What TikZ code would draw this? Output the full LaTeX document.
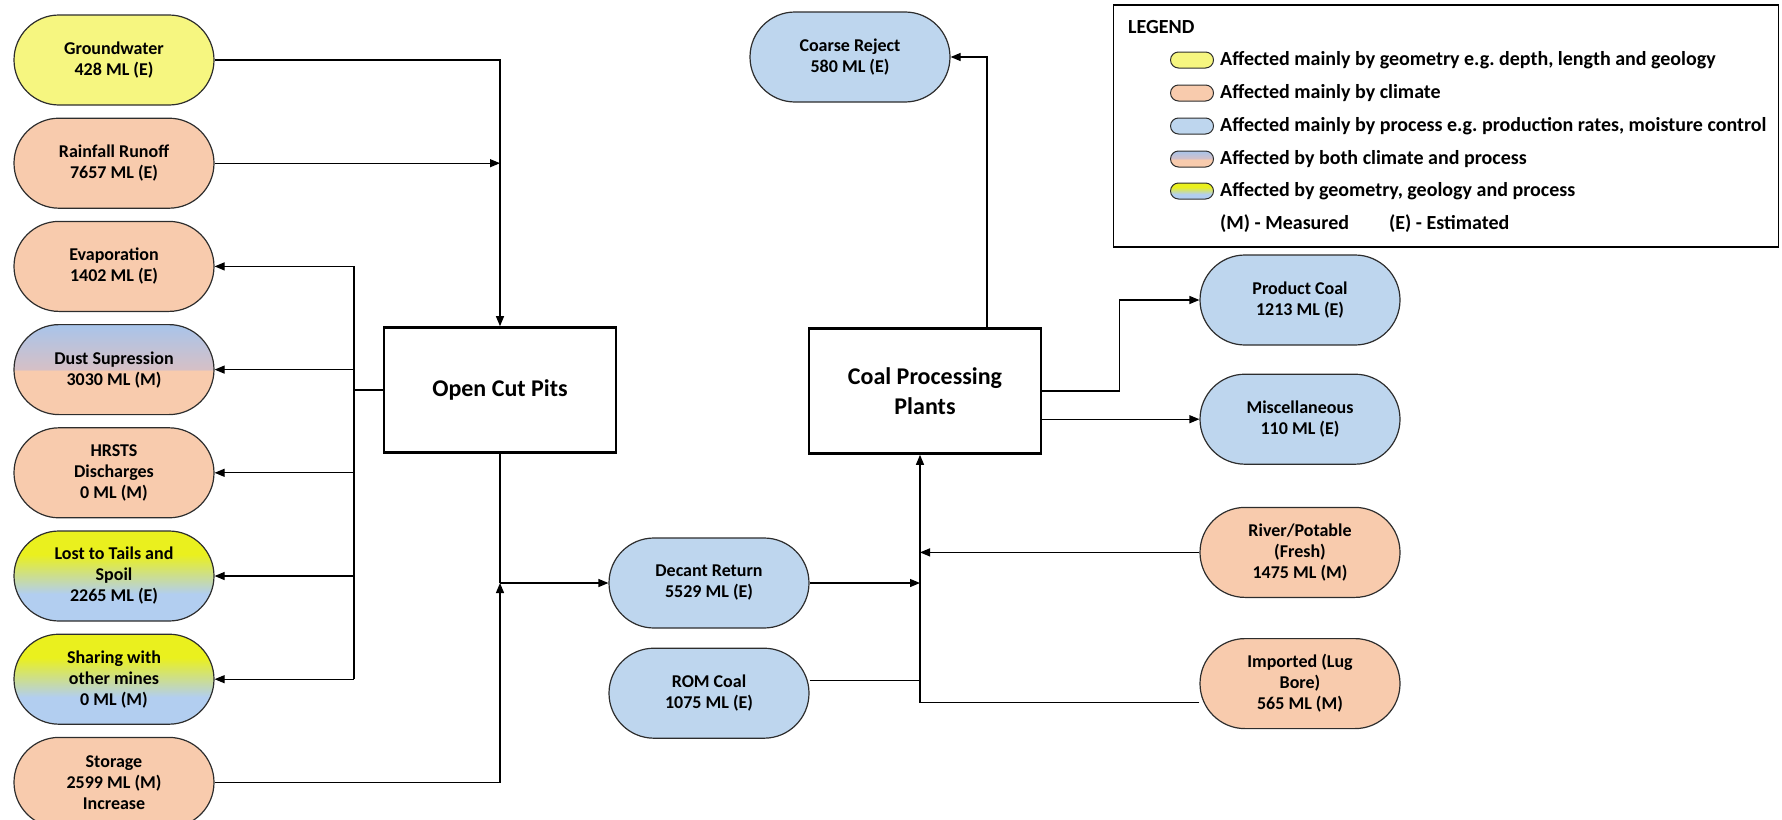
\documentclass[tikz,border=0pt]{standalone}
\usepackage{fontspec}
\setmainfont{Carlito}
\usepackage{tikz}
\usetikzlibrary{arrows.meta,positioning,shapes.misc}
\definecolor{geoyellow}{RGB}{246,246,128}
\definecolor{climpeach}{RGB}{248,203,173}
\definecolor{procblue}{RGB}{190,214,238}
\definecolor{dusttop}{RGB}{168,196,234}
\definecolor{dustmid}{RGB}{214,192,198}
\definecolor{minetop}{RGB}{234,240,30}
\definecolor{minebot}{RGB}{178,206,240}
\definecolor{edgegrey}{RGB}{45,45,45}
\pgfdeclareverticalshading{bothshade}{100bp}{color(0bp)=(climpeach); color(25bp)=(climpeach);
  color(49.5bp)=(climpeach); color(50bp)=(dustmid); color(75bp)=(dusttop); color(100bp)=(dusttop)}
\pgfdeclareverticalshading{mixshade}{100bp}{color(0bp)=(minebot); color(25bp)=(minebot);
  color(40bp)=(minebot); color(62bp)=(minetop); color(75bp)=(minetop); color(100bp)=(minetop)}
\tikzset{
  flowbox/.style={shape=rounded rectangle, draw=edgegrey, line width=1.2pt,
    minimum width=204pt, minimum height=90pt, inner sep=2pt,
    align=center, font=\fontsize{18}{21}\selectfont\bfseries},
  geobox/.style={flowbox, fill=geoyellow},
  climbox/.style={flowbox, fill=climpeach},
  procbox/.style={flowbox, fill=procblue},
  bothbox/.style={flowbox, shade, shading=bothshade},
  mixbox/.style={flowbox, shade, shading=mixshade},
  plantbox/.style={draw, line width=2.6pt, minimum width=232pt, minimum height=125pt,
    align=center, font=\fontsize{24}{30}\selectfont\bfseries},
  swatch/.style={shape=rounded rectangle, draw=edgegrey, line width=1pt,
    minimum width=43pt, minimum height=16pt, inner sep=0pt},
  legtext/.style={anchor=west, inner sep=0pt, font=\fontsize{20}{23}\selectfont\bfseries},
  arr/.style={-{Triangle[length=10pt,width=8pt]}, line width=1.2pt},
  link/.style={line width=1.2pt},
}

\begin{document}
\frenchspacing
\begin{tikzpicture}[x=1pt, y=-1pt]
  \useasboundingbox (0,0) rectangle (1782,819);

  % Left column: pit inflows and losses
  \node[geobox] (gw) at (114,60) {Groundwater\\428 ML (E)};
  \node[climbox, below=12pt of gw] (rain) {Rainfall Runoff\\7657 ML (E)};
  \node[climbox, below=12pt of rain] (evap) {Evaporation\\1402 ML (E)};
  \node[bothbox, below=12pt of evap] (dust) {Dust Supression\\3030 ML (M)};
  \node[climbox, below=12pt of dust] (hrsts) {HRSTS\\Discharges\\0 ML (M)};
  \node[mixbox, below=12pt of hrsts] (tails) {Lost to Tails and\\Spoil\\2265 ML (E)};
  \node[mixbox, below=12pt of tails] (share) {Sharing with\\other mines\\0 ML (M)};
  \node[climbox, below=12pt of share] (store) {Storage\\2599 ML (M)\\Increase};

  % Main units
  \node[plantbox] (pits) at (500,390) {Open Cut Pits};
  \node[plantbox] (cpp) at (925,391) {Coal Processing\\Plants};

  % Middle and right columns
  \node[procbox] (coarse) at (850,57) {Coarse Reject\\580 ML (E)};
  \node[procbox] (decant) at (709,583) {Decant Return\\5529 ML (E)};
  \node[procbox, below=19pt of decant] (rom) {ROM Coal\\1075 ML (E)};
  \node[procbox] (prod) at (1300,300) {Product Coal\\1213 ML (E)};
  \node[procbox, below=28pt of prod] (misc) {Miscellaneous\\110 ML (E)};
  \node[climbox, below=42pt of misc] (river) {River/Potable\\(Fresh)\\1475 ML (M)};
  \node[climbox, below=40pt of river] (imp) {Imported (Lug\\Bore)\\565 ML (M)};

  % Pit connectors
  \coordinate (bus) at (354,0);
  \draw[arr] (gw.east) -| (pits.north);
  \draw[arr] (rain.east) -- (pits.north |- rain.east);
  \draw[link] (bus |- evap.east) -- (bus |- share.east);
  \draw[link] (pits.west) -- (bus |- pits.west);
  \foreach \n in {evap, dust, hrsts, tails, share}
    \draw[arr] (bus |- \n.east) -- (\n.east);
  \coordinate (pjoin) at (pits.south |- decant.west);
  \draw[link] (pits.south) -- (pjoin);
  \draw[arr] (pjoin) -- (decant.west);
  \draw[arr] (store.east) -| (pjoin);

  % Plant connectors
  \coordinate (cbus) at (920,0);
  \coordinate (romout) at ([yshift=13pt]rom.east);
  \coordinate (impin) at ([yshift=-19pt]imp.west);
  \draw[arr] (impin) -| (cbus |- cpp.south);
  \draw[link] (romout) -- (cbus |- romout);
  \draw[arr] (decant.east) -- (cbus |- decant.east);
  \draw[arr] (river.west) -- (cbus |- river.west);
  \draw[arr] ([xshift=62pt]cpp.north) |- (coarse.east);
  \draw[arr] (cpp.east) -- ++(77,0) |- (prod.west);
  \draw[arr] (cpp.east |- misc.west) -- (misc.west);

  % Legend
  \node[draw, line width=1.3pt, minimum width=665pt, minimum height=242pt,
        inner sep=0pt] (legend) at (1446,126) {};
  \node[legtext] (legtitle) at (1128,27) {LEGEND};
  \node[swatch, fill=geoyellow] (sw1) at (1192,60) {};
  \node[swatch, fill=climpeach] (sw2) at (1192,93) {};
  \node[swatch, fill=procblue] (sw3) at (1192,126) {};
  \node[swatch, shade, shading=bothshade] (sw4) at (1192,159) {};
  \node[swatch, shade, shading=mixshade] (sw5) at (1192,191) {};
  \node[legtext, right=6pt of sw1] (lt1) {Affected mainly by geometry e.g. depth, length and geology};
  \node[legtext, right=6pt of sw2] (lt2) {Affected mainly by climate};
  \node[legtext, right=6pt of sw3] (lt3) {Affected mainly by process e.g. production rates, moisture control};
  \node[legtext, right=6pt of sw4] (lt4) {Affected by both climate and process};
  \node[legtext, right=6pt of sw5] (lt5) {Affected by geometry, geology and process};
  \node[legtext] (meas) at (1220,224) {(M) - Measured};
  \node[legtext] (est) at (1389,224) {(E) - Estimated};
\end{tikzpicture}
\end{document}
